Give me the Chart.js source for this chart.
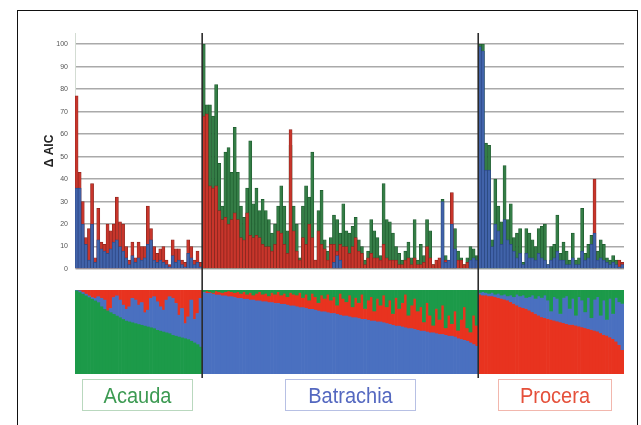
<!DOCTYPE html>
<html><head><meta charset="utf-8">
<script src="https://cdn.jsdelivr.net/npm/chart.js@4.4.1/dist/chart.umd.min.js"></script>
<style>
html,body{margin:0;padding:0;background:#fff;}
body{width:641px;height:425px;position:relative;overflow:hidden;font-family:"Liberation Sans",Arial,sans-serif;}
#frame{position:absolute;left:17px;top:10px;width:621px;height:440px;border:1px solid #111;box-sizing:border-box;}
#top{position:absolute;left:0;top:0;width:641px;height:290px;}
#bot{position:absolute;left:0;top:290px;width:641px;height:90px;}
.lab{position:absolute;top:379px;height:32px;box-sizing:border-box;border:1px solid;display:flex;align-items:center;justify-content:center;font-size:20px;}
.lab span{display:inline-block;transform:scale(1,1.12);}
</style></head>
<body>
<div id="frame"></div>
<div id="top"><canvas id="c1" width="641" height="290"></canvas></div>
<div id="bot"><canvas id="c2" width="641" height="90"></canvas></div>
<div class="lab" style="left:82px;width:111px;color:#3c9a52;border-color:#b9d8be"><span>Acauda</span></div>
<div class="lab" style="left:285px;width:131px;color:#5468c0;border-color:#b7c0e4"><span>Batrachia</span></div>
<div class="lab" style="left:498px;width:114px;color:#e5503a;border-color:#f2b7ad"><span>Procera</span></div>
<script>
// ---- Data ----
const groupNames = ['Acauda', 'Batrachia', 'Procera'];
const yTicks = [0, 10, 20, 30, 40, 50, 60, 70, 80, 90, 100];

// Top panel: delta AIC per sample, per model colour
const acaudaRed  = [77,43,30,14,18,38,5,27,12,11,20,17,20,32,21,20,10,4,12,5,12,10,10,28,18,10,7,9,10,4,2,13,9,9,4,3,13,10,4,8,3];
const acaudaBlue = [36,36,20,11,4,20,3,13,9,8,7,9,12,13,10,8,5,2,6,3,5,4,5,11,13,4,3,4,3,2,1,6,3,4,2,1,7,5,2,3,1];

const batrachiaGreen = [100,73,73,68,82,47,28,52,54,43,63,43,28,23,36,57,29,36,26,31,26,22,16,20,28,37,28,17,55,28,20,5,28,37,32,52,4,26,35,13,8,14,24,22,16,
  29,17,16,19,23,13,10,4,8,22,17,14,6,38,22,21,16,10,7,4,8,12,5,22,4,11,6,22,17,2,1,2,31,6,3,5,18,8,5,2,5,10,9,6];
const batrachiaRed = [68,69,37,36,37,26,22,23,20,22,25,22,14,13,25,15,14,15,14,11,10,10,8,11,17,16,11,7,62,17,8,4,14,11,20,14,4,17,11,9,4,11,11,8,11,
  10,10,7,10,14,8,7,2,5,7,5,5,4,11,5,4,4,4,2,2,4,5,2,5,2,2,3,10,5,2,4,5,2,4,2,34,3,4,4,2,3,2,3,3];
const batrachiaBlue = [0,0,0,0,0,0,0,0,0,0, 0,0,0,0,0,0,0,0,0,0, 0,0,0,0,0,0,0,0,0,0, 0,0,0,0,0,0,0,0,0,0,
  0,0,3,6,4,0,0,0,0,0, 0,0,0,0,0,0,0,0,0,0, 0,0,0,0,0,0,0,0,0,0, 0,0,0,0,0,0,0,30,3,4, 20,9,0,0,0,0,4,5,4];

const proceraGreen = [100,100,56,55,13,40,28,21,46,22,29,14,16,18,3,18,16,13,10,18,19,20,2,10,11,24,7,12,8,4,16,4,5,27,7,11,15,10,8,13,11,5,4,6,4,2,3];
const proceraBlue  = [99,97,44,44,10,20,17,11,22,13,11,8,5,7,2,7,5,5,4,7,5,4,2,4,5,8,4,4,2,2,5,2,2,8,4,5,11,16,4,5,4,3,2,3,2,1,2];
const proceraRed   = [0,0,0,0,0,0,0,0,0,0, 0,0,0,0,0,0,0,0,0,0, 0,0,0,0,0,0,0,0,0,0, 0,0,0,0,0,0,0,40,0,0, 0,0,0,0,0,4,3];

// Bottom panel: membership fractions (own cluster at bottom, "top" cluster hanging from top)
const acaudaOwn = [0.99,0.97,0.95,0.93,0.91,0.89,0.87,0.85,0.80,0.77,0.75,0.73,0.71,0.69,0.67,0.65,0.63,0.62,0.61,0.60,
  0.59,0.58,0.57,0.56,0.55,0.54,0.52,0.51,0.50,0.49,0.48,0.46,0.45,0.44,0.43,0.42,0.41,0.39,0.37,0.35,0.32];
const acaudaTop = [0.00,0.01,0.03,0.05,0.07,0.09,0.10,0.08,0.10,0.12,0.25,0.22,0.09,0.07,0.12,0.18,0.23,0.20,0.10,0.12,
  0.18,0.15,0.27,0.24,0.10,0.08,0.14,0.20,0.24,0.12,0.08,0.10,0.16,0.30,0.22,0.40,0.32,0.12,0.35,0.28,0.10];
const batrachiaOwn = [0.97,0.96,0.96,0.95,0.94,0.94,0.93,0.93,0.92,0.92, 0.91,0.90,0.90,0.89,0.89,0.88,0.88,0.87,0.87,0.86,
  0.86,0.85,0.85,0.84,0.84,0.83,0.83,0.82,0.81,0.81, 0.80,0.79,0.79,0.78,0.77,0.77,0.76,0.75,0.74,0.74,
  0.73,0.72,0.72,0.71,0.70,0.69,0.69,0.68,0.67,0.67, 0.66,0.65,0.65,0.64,0.63,0.63,0.62,0.62,0.61,0.60,
  0.59,0.58,0.57,0.57,0.56,0.55,0.54,0.54,0.53,0.52, 0.51,0.51,0.50,0.49,0.49,0.48,0.47,0.47,0.46,0.45,
  0.45,0.44,0.42,0.41,0.40,0.39,0.37,0.35,0.33];
const batrachiaTop = [0.02,0.01,0.02,0.03,0.01,0.02,0.03,0.02,0.01,0.02, 0.03,0.02,0.04,0.02,0.05,0.03,0.06,0.04,0.02,0.05,
  0.04,0.07,0.03,0.05,0.02,0.06,0.04,0.08,0.03,0.05, 0.06,0.03,0.09,0.05,0.12,0.04,0.08,0.15,0.06,0.10,
  0.05,0.12,0.08,0.18,0.04,0.10,0.14,0.06,0.20,0.09, 0.15,0.05,0.22,0.12,0.08,0.25,0.10,0.18,0.06,0.20,
  0.12,0.28,0.09,0.22,0.15,0.05,0.30,0.18,0.10,0.25, 0.20,0.38,0.15,0.30,0.42,0.22,0.35,0.18,0.45,0.30,
  0.40,0.25,0.48,0.35,0.20,0.45,0.50,0.30,0.42];
const proceraOwn = [0.95,0.94,0.94,0.93,0.93,0.92,0.91,0.90,0.89,0.88, 0.86,0.84,0.82,0.80,0.79,0.78,0.76,0.74,0.72,0.70,
  0.68,0.67,0.66,0.65,0.64,0.63,0.62,0.61,0.60,0.59, 0.59,0.58,0.57,0.56,0.55,0.54,0.53,0.52,0.51,0.49,
  0.47,0.46,0.44,0.42,0.39,0.35,0.29];
const proceraTop = [0.03,0.02,0.03,0.04,0.03,0.05,0.04,0.06,0.05,0.07, 0.06,0.08,0.05,0.07,0.06,0.09,0.08,0.06,0.10,0.07,
  0.09,0.06,0.12,0.25,0.08,0.10,0.28,0.09,0.07,0.22, 0.10,0.30,0.08,0.12,0.26,0.09,0.33,0.11,0.08,0.30,
  0.12,0.35,0.10,0.28,0.09,0.14,0.16];

// ---- Build library tables ----
const nA = acaudaRed.length, nB = batrachiaGreen.length, nP = proceraGreen.length;
const N = nA + nB + nP;
const labels = Array.from({length: N}, (_, i) => String(i + 1));
const z = n => new Array(n).fill(0);
const nz = arr => arr.map(v => (v ? v : null));
const aicRed   = nz([...acaudaRed, ...batrachiaRed, ...proceraRed]);
const aicGreen = nz([...z(nA), ...batrachiaGreen, ...proceraGreen]);
const aicBlue  = nz([...acaudaBlue, ...batrachiaBlue, ...proceraBlue]);

// structure plot: floating segments [lo, hi]
const segG = [], segB = [], segR = [];
function addGroup(own, top, ownArr, midArr, topArr) {
  for (let i = 0; i < own.length; i++) {
    const o = own[i], t = top[i];
    ownArr.push([0, o]); midArr.push([o, 1 - t]); topArr.push([1 - t, 1]);
  }
}
addGroup(acaudaOwn, acaudaTop, segG, segB, segR);
addGroup(batrachiaOwn, batrachiaTop, segB, segR, segG);
addGroup(proceraOwn, proceraTop, segR, segB, segG);

const boundaries = [nA, nA + nB];

const C = {
  red: '#c8352b', redB: '#8c251e',
  green: '#347d46', greenB: '#1d5a2d',
  blue: '#4163aa', blueB: '#2b4784',
  sG: '#1c9a49', sB: '#4a70c0', sR: '#e8331f'
};

function dividerPlugin(y0fn, y1fn) {
  return {
    id: 'dividers',
    afterDatasetsDraw(chart) {
      const x = chart.scales.x, ctx = chart.ctx;
      ctx.save();
      ctx.strokeStyle = '#2b2b2b';
      ctx.lineWidth = 1.6;
      for (const b of boundaries) {
        const px = (x.getPixelForValue(b - 1) + x.getPixelForValue(b)) / 2;
        ctx.beginPath();
        ctx.moveTo(px, y0fn(chart));
        ctx.lineTo(px, y1fn(chart));
        ctx.stroke();
      }
      ctx.restore();
    }
  };
}

const barCommon = { grouped: false, barPercentage: 1, categoryPercentage: 1 };

new Chart(document.getElementById('c1'), {
  type: 'bar',
  data: {
    labels,
    datasets: [
      { label: 'blue', data: aicBlue, backgroundColor: C.blue, borderColor: C.blueB, borderWidth: 0.7, order: 0, ...barCommon },
      { label: 'red', data: aicRed, backgroundColor: C.red, borderColor: C.redB, borderWidth: 0.7, order: 1, ...barCommon },
      { label: 'green', data: aicGreen, backgroundColor: C.green, borderColor: C.greenB, borderWidth: 0.7, order: 2, ...barCommon }
    ]
  },
  options: {
    responsive: false,
    animation: false,
    layout: { padding: { left: 40, right: 17, top: 33, bottom: 21 } },
    plugins: { legend: { display: false }, tooltip: { enabled: false } },
    scales: {
      x: { display: false },
      y: {
        min: 0, max: 105,
        afterBuildTicks: s => { s.ticks = yTicks.map(v => ({ value: v })); },
        afterFit: s => { s.width = 35; s.paddingTop = 0; s.paddingBottom = 0; },
        ticks: { color: '#555', font: { size: 7, family: 'Liberation Sans' }, padding: 7 },
        grid: { color: '#aaaaaa', lineWidth: 1.5, drawTicks: false },
        border: { display: true, color: '#d3dcd3', width: 1 },
        title: { display: true, text: 'Δ AIC', color: '#222', font: { size: 12, weight: 'bold', family: 'Liberation Sans' }, padding: { top: 2, bottom: 0 } }
      }
    }
  },
  plugins: [dividerPlugin(c => c.chartArea.top, c => c.height)]
});

new Chart(document.getElementById('c2'), {
  type: 'bar',
  data: {
    labels,
    datasets: [
      { label: 'green', data: segG, backgroundColor: C.sG, borderWidth: 0, ...barCommon },
      { label: 'blue', data: segB, backgroundColor: C.sB, borderWidth: 0, ...barCommon },
      { label: 'red', data: segR, backgroundColor: C.sR, borderWidth: 0, ...barCommon }
    ]
  },
  options: {
    responsive: false,
    animation: false,
    layout: { padding: { left: 75, right: 17, top: 0, bottom: 6 } },
    plugins: { legend: { display: false }, tooltip: { enabled: false } },
    scales: {
      x: { display: false },
      y: { display: false, min: 0, max: 1 }
    }
  },
  plugins: [dividerPlugin(() => 0, c => c.chartArea.bottom + 4)]
});
</script>
</body></html>
